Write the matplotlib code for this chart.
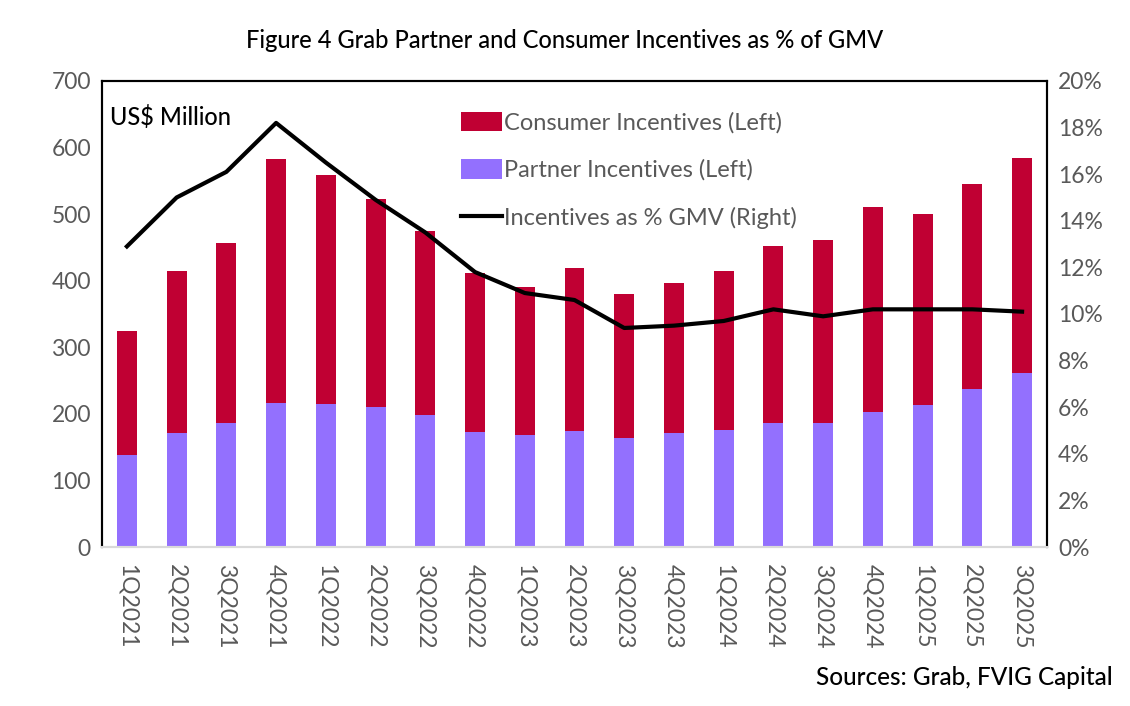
import matplotlib.pyplot as plt
import numpy as np

plt.rcParams['font.family'] = ['Lato', 'DejaVu Sans']

quarters = ['1Q2021', '2Q2021', '3Q2021', '4Q2021', '1Q2022', '2Q2022', '3Q2022',
            '4Q2022', '1Q2023', '2Q2023', '3Q2023', '4Q2023', '1Q2024', '2Q2024',
            '3Q2024', '4Q2024', '1Q2025', '2Q2025', '3Q2025']
# totals (partner + consumer), US$ million
total = [324, 415, 457, 583, 559, 523, 475, 412, 391, 419, 380, 397, 415, 452,
         461, 511, 500, 545, 584]
partner = [138, 171, 186, 216, 215, 210, 198, 173, 168, 174, 164, 171, 176, 186,
           186, 203, 213, 237, 261]
consumer = [t - p for t, p in zip(total, partner)]
# incentives as % of GMV
pct_gmv = [12.9, 15.0, 16.1, 18.2, 16.5, 14.9, 13.5, 11.8, 10.9, 10.6, 9.4, 9.5,
           9.7, 10.2, 9.9, 10.2, 10.2, 10.2, 10.1]

grey = '#595959'
x = np.arange(len(quarters))

fig = plt.figure(figsize=(11.3, 7.06), dpi=100)
ax = fig.add_axes([0.0903, 0.2252, 0.8362, 0.6601])
ax2 = ax.twinx()

b1 = ax.bar(x, partner, width=0.4, color='#9370FE', label='Partner Incentives (Left)', zorder=2)
b2 = ax.bar(x, consumer, width=0.4, bottom=partner, color='#C00033',
            label='Consumer Incentives (Left)', zorder=2)
l1, = ax2.plot(x, [v / 100 for v in pct_gmv], color='black', lw=3,
               label='Incentives as % GMV (Right)')

ax.set_xlim(-0.5, len(quarters) - 0.5)
ax.set_ylim(0, 700)
ax.set_yticks(range(0, 701, 100))
ax2.set_ylim(0, 0.20)
ax2.set_yticks(np.arange(0, 0.201, 0.02))
ax2.set_yticklabels([f'{int(round(v * 100))}%' for v in np.arange(0, 0.201, 0.02)])

ax.set_xticks(x)
ax.set_xticklabels(quarters, rotation=270)
for a in (ax, ax2):
    a.tick_params(axis='both', length=0, labelsize=16.5, colors=grey, pad=8)
    for s in ('top', 'left', 'right'):
        a.spines[s].set_color('black')
        a.spines[s].set_linewidth(1.5)
    a.spines['bottom'].set_color('#D9D9D9')
    a.spines['bottom'].set_linewidth(1.5)
ax.tick_params(axis='x', pad=12)

leg = ax.legend(handles=[b2, b1, l1], loc='upper left', bbox_to_anchor=(0.357, 0.98),
                frameon=False, fontsize=17, labelspacing=1.08, handlelength=1.75,
                handleheight=0.9, handletextpad=0.1)
for t in leg.get_texts():
    t.set_color(grey)

ax.text(0.008, 0.905, 'US$ Million', transform=ax.transAxes, fontsize=17,
        color='black', fontweight='medium')
fig.text(0.5, 0.932, 'Figure 4 Grab Partner and Consumer Incentives as % of GMV',
         ha='center', fontsize=17, color='black', fontweight='medium')
fig.text(0.985, 0.03, 'Sources: Grab, FVIG Capital', ha='right', fontsize=17.5,
         color='black', fontweight='medium')

fig.savefig('out.png', dpi=100)
